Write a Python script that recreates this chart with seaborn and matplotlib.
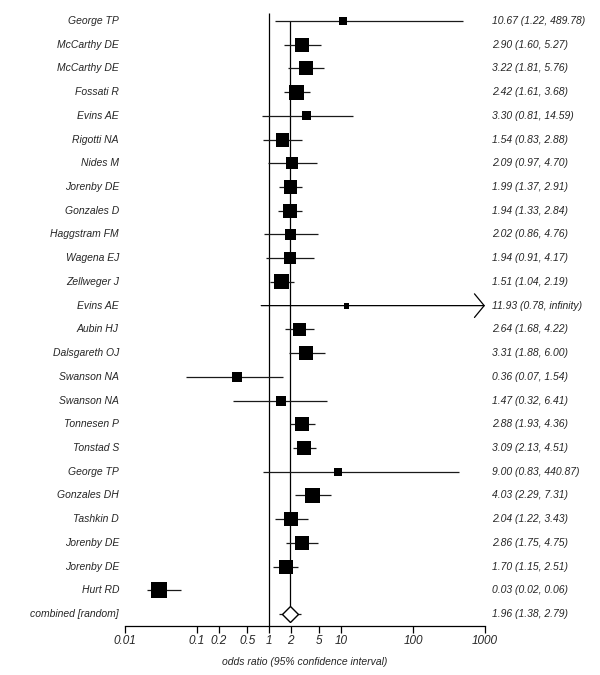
import numpy as np
import pandas as pd
import matplotlib
matplotlib.use("Agg")
import matplotlib.pyplot as plt
import matplotlib.transforms as mtransforms
import seaborn as sns

studies = ["George TP", "McCarthy DE", "McCarthy DE", "Fossati R", "Evins AE",
           "Rigotti NA", "Nides M", "Jorenby DE", "Gonzales D", "Haggstram FM",
           "Wagena EJ", "Zellweger J", "Evins AE", "Aubin HJ", "Dalsgareth OJ",
           "Swanson NA", "Swanson NA", "Tonnesen P", "Tonstad S", "George TP",
           "Gonzales DH", "Tashkin D", "Jorenby DE", "Jorenby DE", "Hurt RD"]
odds = [10.67, 2.90, 3.22, 2.42, 3.30, 1.54, 2.09, 1.99, 1.94, 2.02, 1.94, 1.51,
        11.93, 2.64, 3.31, 0.36, 1.47, 2.88, 3.09, 9.00, 4.03, 2.04, 2.86, 1.70, 0.03]
ci_low = [1.22, 1.60, 1.81, 1.61, 0.81, 0.83, 0.97, 1.37, 1.33, 0.86, 0.91, 1.04,
          0.78, 1.68, 1.88, 0.07, 0.32, 1.93, 2.13, 0.83, 2.29, 1.22, 1.75, 1.15, 0.02]
ci_high = [489.78, 5.27, 5.76, 3.68, 14.59, 2.88, 4.70, 2.91, 2.84, 4.76, 4.17, 2.19,
           np.inf, 4.22, 6.00, 1.54, 6.41, 4.36, 4.51, 440.87, 7.31, 3.43, 4.75, 2.51, 0.06]
# approximate study weights (%)
weight = [1.3, 3.9, 3.9, 4.5, 1.6, 3.9, 2.9, 3.4, 3.9, 2.4, 2.9, 4.5, 0.7,
          3.4, 3.9, 2.0, 2.0, 3.9, 3.9, 1.3, 4.5, 3.9, 3.9, 3.9, 5.1]

pooled_label = "combined [random]"
pooled = 1.96
pooled_low = 1.38
pooled_high = 2.79

ticks = [0.01, 0.1, 0.2, 0.5, 1, 2, 5, 10, 100, 1000]
tick_labels = ["0.01", "0.1", "0.2", "0.5", "1", "2", "5", "10", "100", "1000"]

df = pd.DataFrame({"study": studies, "or": odds, "lo": ci_low, "hi": ci_high, "w": weight})
df["row"] = np.arange(len(df))
n = len(df)

sns.set_style("white")
plt.rcParams["font.family"] = ["Liberation Sans", "DejaVu Sans"]
fs = 7.5
line_col = "#1a1a1a"

fig = plt.figure(figsize=(6, 6.75), dpi=100)
ax = fig.add_axes([125 / 600, 49 / 675, 360 / 600, 617 / 675])
ax.set_xscale("log")
ax.set_xlim(0.01, 1000)
ax.set_ylim(n + 0.5, -0.5)

# reference lines
ax.vlines(1, -0.33, n + 0.5, color="black", lw=0.9)
ax.vlines(pooled, 0, n - 0.35, color="black", lw=0.9)

# confidence intervals
finite = df[np.isfinite(df["hi"])]
ax.hlines(finite["row"], finite["lo"], finite["hi"], color=line_col, lw=0.9)
for _, r in df[~np.isfinite(df["hi"])].iterrows():
    ax.annotate("", xy=(1000, r["row"]), xytext=(r["lo"], r["row"]),
                xycoords="data", annotation_clip=False,
                arrowprops=dict(arrowstyle="->,head_length=0.7,head_width=0.85",
                                color="black", lw=0.9, shrinkA=0, shrinkB=0))

# boxes sized by weight
df["s"] = (5.1 * np.sqrt(df["w"])) ** 2
sns.scatterplot(data=df, x="or", y="row", size="s", sizes=(df["s"].min(), df["s"].max()),
                marker="s", color="black", edgecolor="black", linewidth=0,
                legend=False, ax=ax, zorder=3)

# pooled estimate
ax.hlines(n, pooled_low, pooled_high, color=line_col, lw=0.9)
ax.plot([pooled], [n], marker="D", ms=8, mfc="white", mec="black", mew=1.0, zorder=4)

# text columns
left = mtransforms.blended_transform_factory(fig.transFigure, ax.transData)
for i, name in enumerate(studies + [pooled_label]):
    ax.text(119 / 600, i, name, transform=left, ha="right", va="center",
            fontsize=fs, style="italic")

def fmt(v):
    return "infinity" if not np.isfinite(v) else f"{v:.2f}"

summaries = [f"{fmt(o)} ({fmt(l)}, {fmt(h)})" for o, l, h in zip(odds, ci_low, ci_high)]
summaries.append(f"{fmt(pooled)} ({fmt(pooled_low)}, {fmt(pooled_high)})")
for i, s in enumerate(summaries):
    ax.text(492 / 600, i, s, transform=left, ha="left", va="center",
            fontsize=fs, style="italic")

# axis styling
for side in ["top", "right", "left"]:
    ax.spines[side].set_visible(False)
ax.spines["bottom"].set_color("black")
ax.spines["bottom"].set_linewidth(0.9)
ax.set_yticks([])
ax.set_xticks(ticks)
ax.set_xticklabels(tick_labels, fontsize=8.5, style="italic")
ax.xaxis.set_minor_locator(matplotlib.ticker.NullLocator())
ax.tick_params(axis="x", direction="out", length=5, width=0.9, color="black",
               pad=1.5, bottom=True)
ax.set_xlabel("odds ratio (95% confidence interval)", fontsize=fs, style="italic",
              labelpad=7)
ax.set_ylabel("")

fig.savefig("out.png", dpi=100)
